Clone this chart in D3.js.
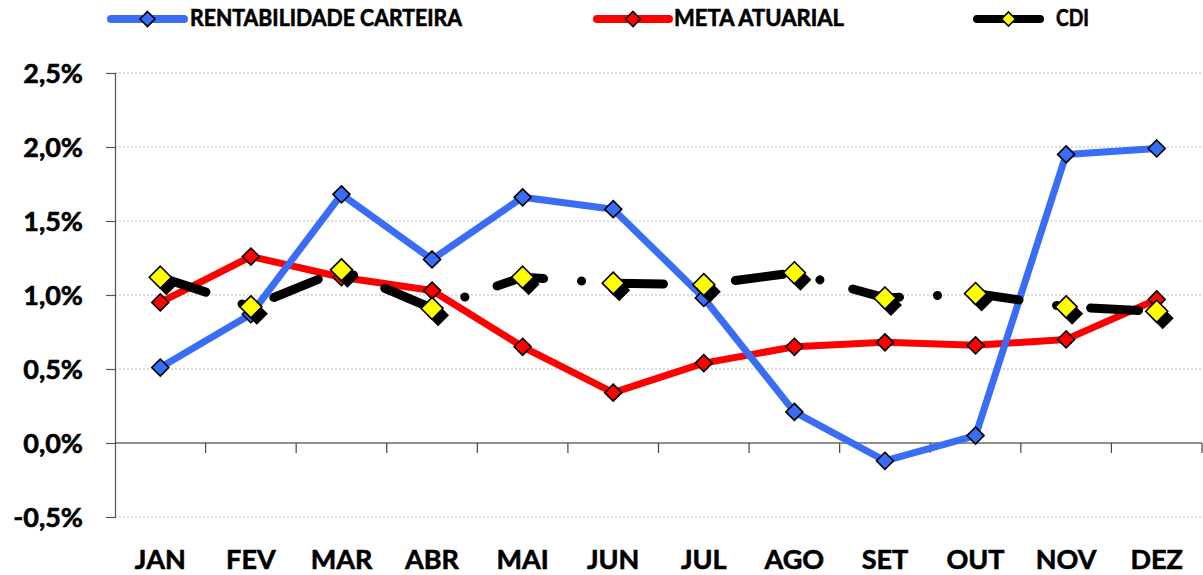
<!DOCTYPE html>
<html>
<head>
<meta charset="utf-8">
<script src="https://cdn.jsdelivr.net/npm/d3@7"></script>
<style>
  html, body { margin: 0; padding: 0; background: #fff; }
  svg { display: block; font-family: Lato, "Open Sans", sans-serif; font-weight: 700; }
  svg text { stroke: #000; stroke-width: 0.6px; paint-order: stroke; }
</style>
</head>
<body>
<svg id="chart" width="1203" height="575"></svg>
<script>
// Monthly returns (%) – portfolio vs. actuarial target vs. CDI
const months = ["JAN", "FEV", "MAR", "ABR", "MAI", "JUN", "JUL", "AGO", "SET", "OUT", "NOV", "DEZ"];
const rentabilidade = [0.51, 0.87, 1.68, 1.24, 1.66, 1.58, 0.98, 0.21, -0.12, 0.05, 1.95, 1.99];
const metaAtuarial = [0.95, 1.26, 1.12, 1.03, 0.65, 0.34, 0.54, 0.65, 0.68, 0.66, 0.70, 0.97];
const cdi = [1.12, 0.92, 1.17, 0.91, 1.12, 1.08, 1.07, 1.15, 0.98, 1.01, 0.92, 0.89];
const yTicks = [-0.5, 0, 0.5, 1.0, 1.5, 2.0, 2.5];
const seriesNames = ["RENTABILIDADE CARTEIRA", "META ATUARIAL", "CDI"];

const svg = d3.select("#chart");
const margin = { left: 115, right: 1202, top: 73, bottom: 517 };

const x = d3.scaleBand().domain(months).range([margin.left, margin.right]);
const y = d3.scaleLinear().domain([-0.5, 2.5]).range([margin.bottom, margin.top]);
const cx = m => x(m) + x.bandwidth() / 2;

const fmt = v => v.toFixed(1).replace(".", ",") + "%";

// horizontal gridlines (dotted), zero line drawn separately
svg.append("g")
  .selectAll("line")
  .data(yTicks.filter(v => v !== 0))
  .join("line")
  .attr("x1", margin.left).attr("x2", 1203)
  .attr("y1", d => y(d)).attr("y2", d => y(d))
  .attr("stroke", "#b8b8b8").attr("stroke-width", 1)
  .attr("stroke-dasharray", "2,2");

// y axis
const yAxis = svg.append("g")
  .attr("transform", `translate(${margin.left},0)`)
  .call(d3.axisLeft(y).tickValues(yTicks).tickFormat(fmt).tickSize(9).tickPadding(23));
yAxis.select(".domain").attr("stroke", "#555").attr("stroke-width", 1.2);
yAxis.selectAll(".tick line").attr("stroke", "#555").attr("stroke-width", 1.2);
yAxis.selectAll("text")
  .attr("fill", "#000").attr("font-size", 27).attr("font-family", "Lato, sans-serif")
  .attr("font-weight", 700).attr("dy", "0.36em");

// x axis at zero, ticks between categories
const xAxis = svg.append("g").attr("transform", `translate(0,${y(0)})`);
xAxis.append("line")
  .attr("x1", margin.left).attr("x2", margin.right)
  .attr("stroke", "#222").attr("stroke-width", 1.2);
xAxis.selectAll("line.tk")
  .data(months.map(m => x(m) + x.bandwidth()))
  .join("line").attr("class", "tk")
  .attr("x1", d => d).attr("x2", d => d)
  .attr("y1", 0).attr("y2", 10)
  .attr("stroke", "#444").attr("stroke-width", 1.2);

// category labels below the plot
svg.append("g")
  .selectAll("text")
  .data(months)
  .join("text")
  .attr("x", d => cx(d)).attr("y", 569)
  .attr("text-anchor", "middle")
  .attr("font-size", 27)
  .attr("fill", "#000")
  .text(d => d);

const line = d3.line().x((d, i) => cx(months[i])).y(d => y(d));
const diamond = (r) => `M0,${-r}L${r},0L0,${r}L${-r},0Z`;

// META ATUARIAL
svg.append("path").datum(metaAtuarial)
  .attr("d", line).attr("fill", "none")
  .attr("stroke", "#ff0000").attr("stroke-width", 7)
  .attr("stroke-linejoin", "round").attr("stroke-linecap", "round");

// RENTABILIDADE CARTEIRA
svg.append("path").datum(rentabilidade)
  .attr("d", line).attr("fill", "none")
  .attr("stroke", "#3a6df5").attr("stroke-width", 7)
  .attr("stroke-linejoin", "round").attr("stroke-linecap", "round");

svg.append("g").selectAll("path")
  .data(metaAtuarial).join("path")
  .attr("transform", (d, i) => `translate(${cx(months[i])},${y(d)})`)
  .attr("d", diamond(8.5))
  .attr("fill", "#ff0000").attr("stroke", "#000").attr("stroke-width", 1.6);

svg.append("g").selectAll("path")
  .data(rentabilidade).join("path")
  .attr("transform", (d, i) => `translate(${cx(months[i])},${y(d)})`)
  .attr("d", diamond(8.5))
  .attr("fill", "#3a6df5").attr("stroke", "#000").attr("stroke-width", 1.6);

// CDI – long dash-dot black line with shadowed yellow markers
svg.append("path").datum(cdi)
  .attr("d", line).attr("fill", "none")
  .attr("stroke", "#000").attr("stroke-width", 9)
  .attr("stroke-linecap", "round").attr("stroke-linejoin", "round")
  .attr("stroke-dasharray", "48,38,0.1,34");

svg.append("g").selectAll("path")
  .data(cdi).join("path")
  .attr("transform", (d, i) => `translate(${cx(months[i]) + 6},${y(d) + 7})`)
  .attr("d", diamond(11))
  .attr("fill", "#000");

svg.append("g").selectAll("path")
  .data(cdi).join("path")
  .attr("transform", (d, i) => `translate(${cx(months[i])},${y(d)})`)
  .attr("d", diamond(11))
  .attr("fill", "#ffff00").attr("stroke", "#000").attr("stroke-width", 1.6);

// legend
const legendItems = [
  { name: seriesNames[0], color: "#3a6df5", fill: "#3a6df5", x0: 111, x1: 184, tx: 190, tw: 272 },
  { name: seriesNames[1], color: "#ff0000", fill: "#ff0000", x0: 597, x1: 669, tx: 674, tw: 170 },
  { name: seriesNames[2], color: "#000", fill: "#ffff00", x0: 977, x1: 1040, tx: 1056, tw: 33 }
];
const lg = svg.append("g").selectAll("g").data(legendItems).join("g");
lg.append("line")
  .attr("x1", d => d.x0).attr("x2", d => d.x1).attr("y1", 19).attr("y2", 19)
  .attr("stroke", d => d.color).attr("stroke-width", 8).attr("stroke-linecap", "round");
lg.append("path")
  .attr("transform", d => `translate(${(d.x0 + d.x1) / 2},19)`)
  .attr("d", (d, i) => diamond(i === 2 ? 7 : 7.5))
  .attr("fill", d => d.fill).attr("stroke", "#000").attr("stroke-width", 1.6);
lg.append("text")
  .attr("x", d => d.tx).attr("y", 26)
  .attr("font-size", 22).attr("fill", "#000")
  .attr("textLength", d => d.tw).attr("lengthAdjust", "spacingAndGlyphs")
  .text(d => d.name);
</script>
</body>
</html>
